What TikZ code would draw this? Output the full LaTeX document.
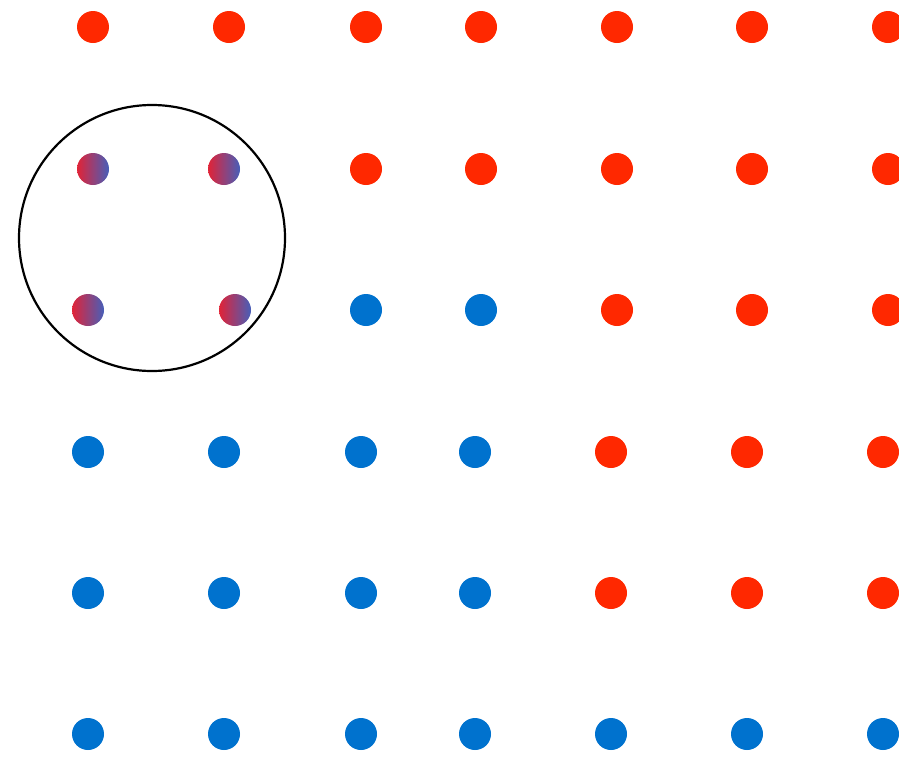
\documentclass[tikz,border=0pt]{standalone}
\usetikzlibrary{calc}

\definecolor{dotRed}{RGB}{255,40,0}
\definecolor{dotBlue}{RGB}{0,114,206}
\definecolor{mixRed}{RGB}{225,35,55}
\definecolor{mixBlue}{RGB}{70,95,185}

\begin{document}
\begin{tikzpicture}[
    x=1pt, y=-1pt,
    % Dot styles
    dot/.style={circle, inner sep=0pt, minimum size=32pt},
    dot red/.style={dot, fill=dotRed},
    dot blue/.style={dot, fill=dotBlue},
    dot mixed/.style={dot, left color=mixRed, right color=mixBlue},
    % Other styles
    lens/.style={draw=black, line width=2.2pt}
]

\useasboundingbox (0,0) rectangle (899,756);
\clip (0,0) rectangle (899,756);

% --- TOP ROW (all red) ---
\foreach \x [count=\c] in {93,229,366,481,617,752,888}
    \node[dot red] (r1c\c) at (\x,27) {};

% --- SECOND ROW ---
\node[dot mixed] (r2c1) at (93,169) {};
\node[dot mixed] (r2c2) at (224,169) {};
\foreach \x [count=\c from 3] in {366,481,617,752,888}
    \node[dot red] (r2c\c) at (\x,169) {};

% --- THIRD ROW ---
\node[dot mixed] (r3c1) at (88,310) {};
\node[dot mixed] (r3c2) at (235,310) {};
\node[dot blue] (r3c3) at (366,310) {};
\node[dot blue] (r3c4) at (481,310) {};
\foreach \x [count=\c from 5] in {617,752,888}
    \node[dot red] (r3c\c) at (\x,310) {};

% --- FOURTH AND FIFTH ROWS (blue left, red right) ---
\foreach \y [count=\r from 4] in {452,593} {
    \foreach \x [count=\c] in {88,224,361,475}
        \node[dot blue] (r\r c\c) at (\x,\y) {};
    \foreach \x [count=\c from 5] in {611,747,883}
        \node[dot red] (r\r c\c) at (\x,\y) {};
}

% --- BOTTOM ROW (all blue) ---
\foreach \x [count=\c] in {88,224,361,475,611,747,883}
    \node[dot blue] (r6c\c) at (\x,734) {};

% --- Circle round the mixed dots ---
\draw[lens] (152,238) circle (133);

\end{tikzpicture}
\end{document}
